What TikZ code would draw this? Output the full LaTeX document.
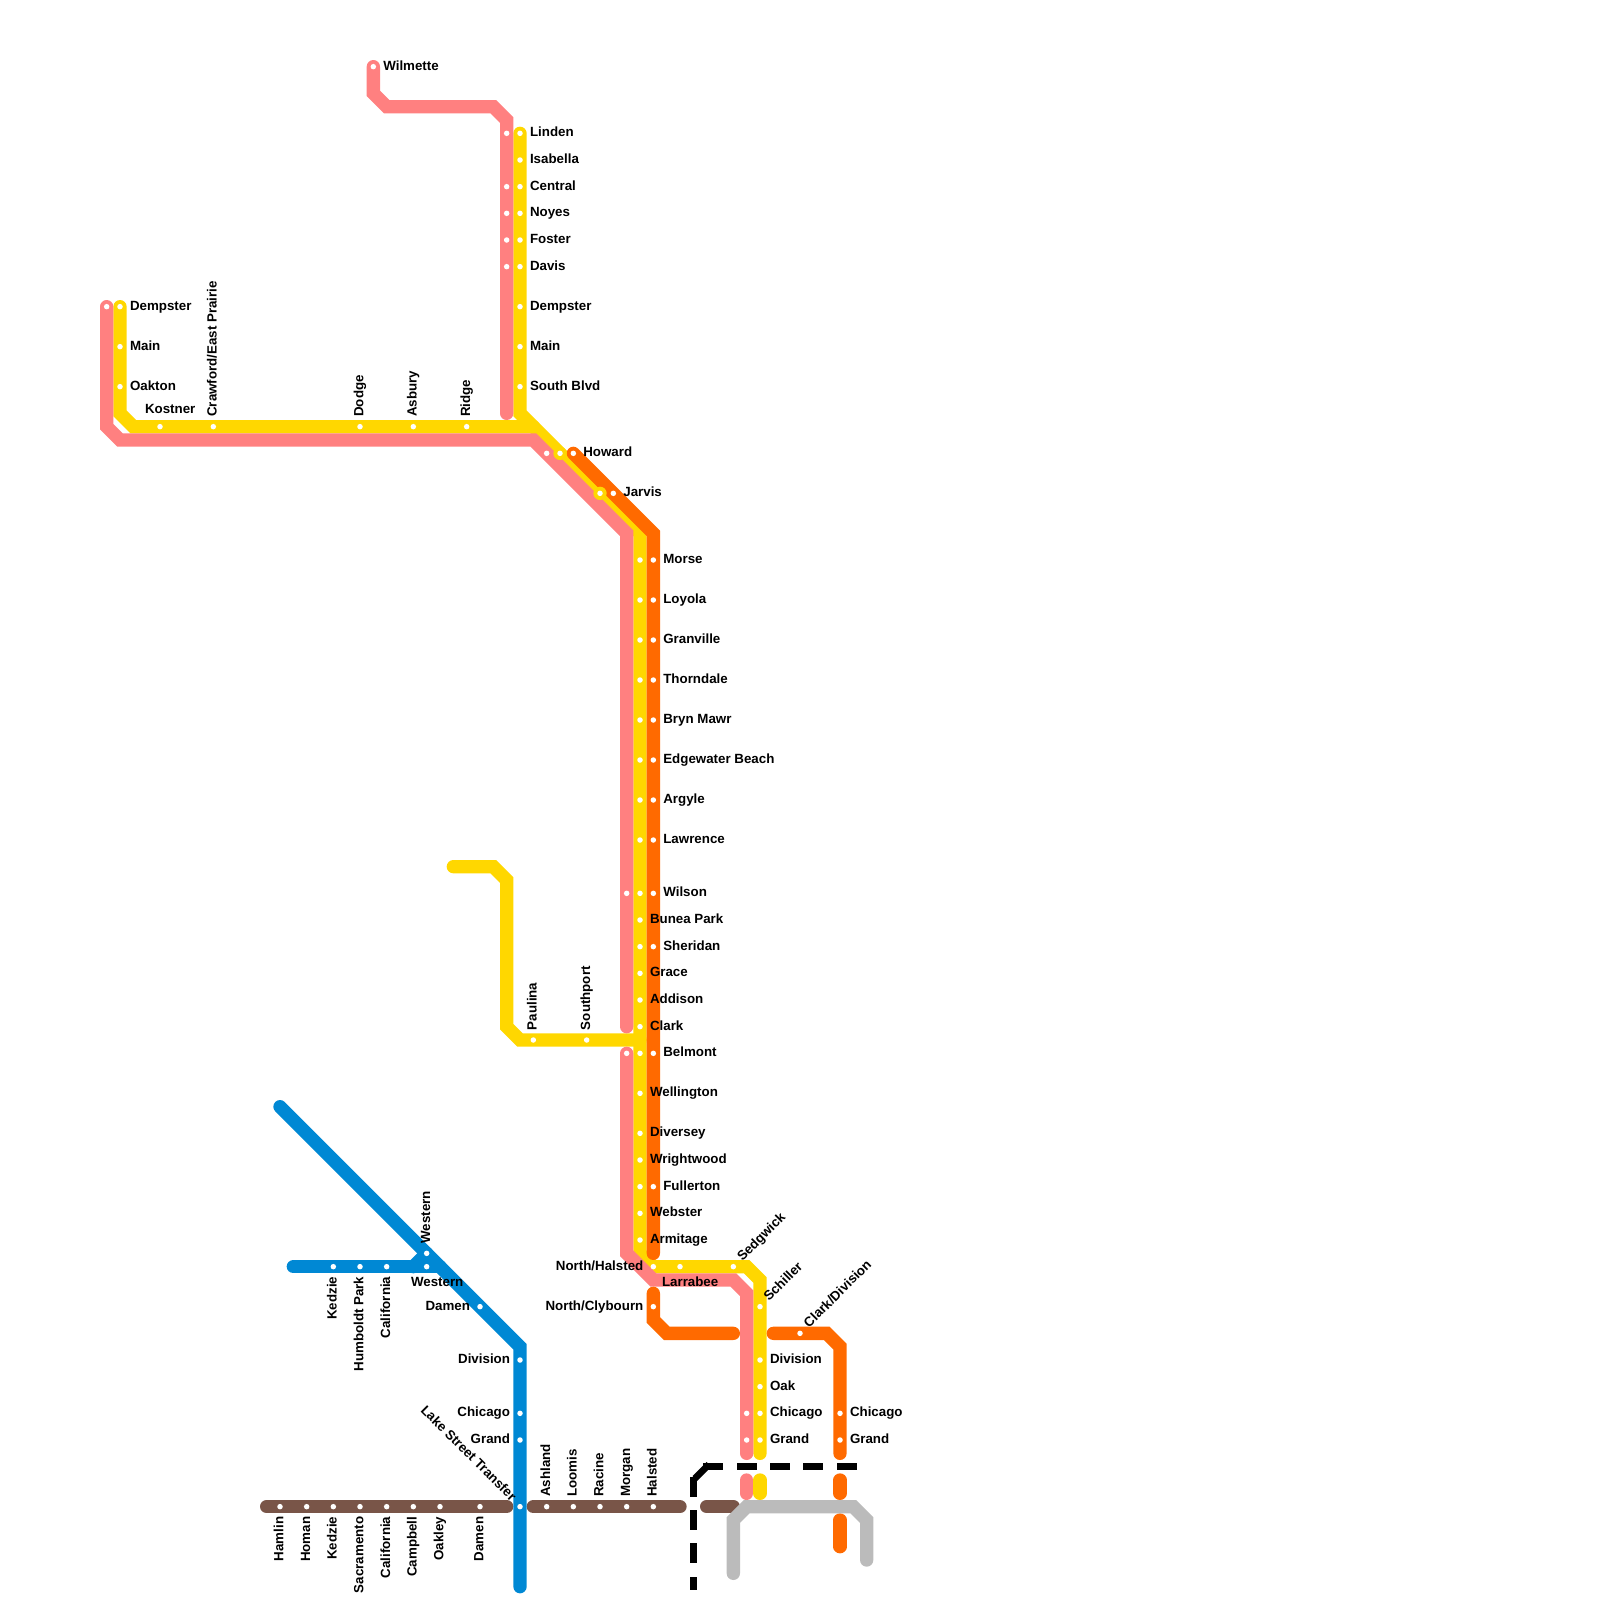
\documentclass[tikz,border=0pt]{standalone}
\usepackage{fontspec}
\setmainfont{Liberation Sans}
\definecolor{cpink}{HTML}{FF8080}
\definecolor{cyellow}{HTML}{FFD700}
\definecolor{corange}{HTML}{FF6A00}
\definecolor{cblue}{HTML}{0088D4}
\definecolor{cbrown}{HTML}{795548}
\definecolor{cgrey}{HTML}{BBBBBB}
\tikzset{
  railline/.style={line width=0.4cm,line cap=round,line join=miter,miter limit=10},
  stn/.style={circle,fill=white,draw=none,minimum size=0.165cm,inner sep=0pt,outer sep=0pt},
  lbl/.style={inner sep=0pt,outer sep=0pt,text=black,font=\fontsize{11.38}{13}\selectfont\bfseries},
  blackdash/.style={draw=black,line width=0.2cm,line cap=rect,dash pattern=on 0.4cm off 0.6cm}
}
\newcommand{\dotat}[3]{\node[stn] (#1) at (#2,#3) {};}
\newcommand{\labE}[2]{\node[lbl,anchor=base west,xshift=0.3cm,yshift=-0.105cm] (#1-t) at (#1) {#2};}
\newcommand{\labW}[2]{\node[lbl,anchor=base east,xshift=-0.3cm,yshift=-0.105cm] (#1-t) at (#1) {#2};}
\newcommand{\labN}[2]{\node[lbl,xshift=0.1cm,yshift=0.3cm,rotate=90,anchor=base west] (#1-t) at (#1) {#2};}
\newcommand{\labS}[2]{\node[lbl,xshift=0.1cm,yshift=-0.3cm,rotate=90,anchor=base east] (#1-t) at (#1) {#2};}
\newcommand{\labNE}[2]{\node[lbl,xshift=0.276cm,yshift=0.15cm,rotate=45,anchor=base west] (#1-t) at (#1) {#2};}
\begin{document}
\begin{tikzpicture}[x=0.4cm,y=-0.4cm]
\useasboundingbox (0,0) rectangle (120,120);
% yellow
\begin{scope}[railline,draw=cyellow]
\draw[cyellow] (39,10) -- (39,31) -- (48,40) -- (48,94) -- (49,95) -- (56,95) -- (57,96) -- (57,109);
\draw[cyellow] (9,23) -- (9,31) -- (10,32) -- (40,32);
\draw[cyellow] (34,65) -- (37,65) -- (38,66) -- (38,77) -- (39,78) -- (48,78);
\draw[cyellow] (57,111) -- (57,112);
\end{scope}
% pink
\begin{scope}[railline]
\draw[cpink] (28,5) -- (28,7) -- (29,8) -- (37,8) -- (38,9) -- (38,31);
\draw[cpink] (8,23) -- (8,32) -- (9,33) -- (40,33) -- (47,40) -- (47,77);
\draw[cpink] (47,79) -- (47,94) -- (49,96) -- (55,96) -- (56,97) -- (56,109);
\draw[cpink] (56,111) -- (56,112);
\end{scope}
% orange
\begin{scope}[railline]
\draw[corange] (43,34) -- (49,40) -- (49,94);
\draw[corange] (49,97) -- (49,99) -- (50,100) -- (55,100);
\draw[corange] (58,100) -- (62,100) -- (63,101) -- (63,109);
\draw[corange] (63,111) -- (63,112);
\draw[corange] (63,114) -- (63,116);
\end{scope}
% yellow collars at Howard and Jarvis
\fill[cyellow] (42,34) circle (0.2cm);
\fill[cyellow] (45,37) circle (0.2cm);
% brown, blue, grey
\begin{scope}[railline]
\draw[cbrown] (20,113) -- (38,113);
\draw[cbrown] (40,113) -- (51,113);
\draw[cbrown] (53,113) -- (55,113);
\draw[cblue] (21,83) -- (39,101) -- (39,119);
\draw[cblue] (22,95) -- (33,95);
\draw[cblue] (31,95) -- (32,94);
\draw[cgrey] (55,118) -- (55,114) -- (56,113) -- (64,113) -- (65,114) -- (65,117);
\end{scope}
% black dashed boundary
\draw[blackdash] (53,110) -- (64,110);
\draw[blackdash] (53,110) -- (52,111);
\draw[blackdash] (52,111) -- (52,119);
% stations: pink
\dotat{pw}{28}{5}
\foreach \v in {10,14,16,18,20} {\dotat{pn\v}{38}{\v}}
\dotat{pd}{8}{23}
\dotat{ph}{41}{34}
\dotat{pt67}{47}{67}
\dotat{pt79}{47}{79}
\dotat{pc}{56}{106}
\dotat{pg}{56}{108}
% stations: yellow
\foreach \v in {10,12,14,16,18,20,23,26,29} {\dotat{yn\v}{39}{\v}}
\foreach \v in {23,26,29} {\dotat{yw\v}{9}{\v}}
\foreach \v in {12,16,27,31,35} {\dotat{yh\v}{\v}{32}}
\dotat{yhow}{42}{34}
\dotat{yjar}{45}{37}
\foreach \v in {42,45,48,51,54,57,60,63,67,69,71,73,75,77,79,82,85,87,89,91,93} {\dotat{y\v}{48}{\v}}
\dotat{yp}{40}{78}
\dotat{ys}{44}{78}
\dotat{nh}{49}{95}
\dotat{lar}{51}{95}
\dotat{sed}{55}{95}
\foreach \v in {98,102,104,106,108} {\dotat{ye\v}{57}{\v}}
% stations: orange
\dotat{ohow}{43}{34}
\dotat{ojar}{46}{37}
\foreach \v in {42,45,48,51,54,57,60,63,67,71,79,89} {\dotat{o\v}{49}{\v}}
\dotat{ncl}{49}{98}
\dotat{ocd}{60}{100}
\dotat{oc}{63}{106}
\dotat{og}{63}{108}
% stations: blue
\dotat{bw}{32}{94}
\dotat{bw2}{32}{95}
\foreach \v in {25,27,29} {\dotat{bh\v}{\v}{95}}
\dotat{bd}{36}{98}
\foreach \v in {102,106,108,113} {\dotat{bv\v}{39}{\v}}
% stations: brown
\foreach \v in {21,23,25,27,29,31,33,36,41,43,45,47,49} {\dotat{br\v}{\v}{113}}
% labels
\labE{pw}{Wilmette}
\labE{yn10}{Linden}
\labE{yn12}{Isabella}
\labE{yn14}{Central}
\labE{yn16}{Noyes}
\labE{yn18}{Foster}
\labE{yn20}{Davis}
\labE{yn23}{Dempster}
\labE{yn26}{Main}
\labE{yn29}{South Blvd}
\labE{yw23}{Dempster}
\labE{yw26}{Main}
\labE{yw29}{Oakton}
\node[lbl,anchor=base west,xshift=-0.45cm,yshift=0.39cm] (yh12-t) at (yh12) {Kostner};
\labN{yh16}{Crawford/East Prairie}
\labN{yh27}{Dodge}
\labN{yh31}{Asbury}
\labN{yh35}{Ridge}
\labE{ohow}{Howard}
\labE{ojar}{Jarvis}
\labE{o42}{Morse}
\labE{o45}{Loyola}
\labE{o48}{Granville}
\labE{o51}{Thorndale}
\labE{o54}{Bryn Mawr}
\labE{o57}{Edgewater Beach}
\labE{o60}{Argyle}
\labE{o63}{Lawrence}
\labE{o67}{Wilson}
\labE{y69}{Bunea Park}
\labE{o71}{Sheridan}
\labE{y73}{Grace}
\labE{y75}{Addison}
\labE{y77}{Clark}
\labE{o79}{Belmont}
\labE{y82}{Wellington}
\labE{y85}{Diversey}
\labE{y87}{Wrightwood}
\labE{o89}{Fullerton}
\labE{y91}{Webster}
\labE{y93}{Armitage}
\labN{yp}{Paulina}
\labN{ys}{Southport}
\labW{nh}{North/Halsted}
\labW{ncl}{North/Clybourn}
\node[lbl,anchor=base west,xshift=-0.54cm,yshift=-0.585cm] (lar-t) at (lar) {Larrabee};
\labNE{sed}{Sedgwick}
\labNE{ye98}{Schiller}
\labNE{ocd}{Clark/Division}
\labE{ye102}{Division}
\labE{ye104}{Oak}
\labE{ye106}{Chicago}
\labE{ye108}{Grand}
\labE{oc}{Chicago}
\labE{og}{Grand}
\labN{bw}{Western}
\node[lbl,anchor=base west,xshift=-0.47cm,yshift=-0.585cm] (bw2-t) at (bw2) {Western};
\labS{bh25}{Kedzie}
\labS{bh27}{Humboldt Park}
\labS{bh29}{California}
\labW{bd}{Damen}
\labW{bv102}{Division}
\labW{bv106}{Chicago}
\labW{bv108}{Grand}
\node[lbl,xshift=-0.276cm,yshift=0.15cm,rotate=-45,anchor=base east] (bv113-t) at (bv113) {Lake Street Transfer};
\labS{br21}{Hamlin}
\labS{br23}{Homan}
\labS{br25}{Kedzie}
\labS{br27}{Sacramento}
\labS{br29}{California}
\labS{br31}{Campbell}
\labS{br33}{Oakley}
\labS{br36}{Damen}
\labN{br41}{Ashland}
\labN{br43}{Loomis}
\labN{br45}{Racine}
\labN{br47}{Morgan}
\labN{br49}{Halsted}
\end{tikzpicture}
\end{document}
